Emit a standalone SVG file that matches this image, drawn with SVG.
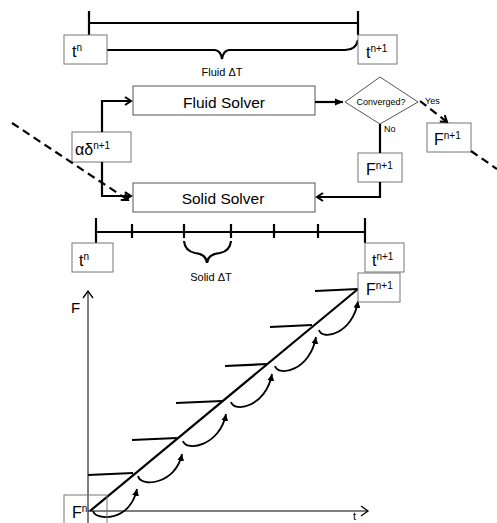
<svg xmlns="http://www.w3.org/2000/svg" width="497" height="523" viewBox="0 0 497 523">
<style>
  text { font-family: "Liberation Sans", Arial, sans-serif; fill: #000; }
  .box { fill: #fff; stroke: #777; stroke-width: 1; }
  .thick { fill: none; stroke: #000; stroke-width: 2.2; }
  .thin { fill: none; stroke: #000; stroke-width: 1; }
  .dash { fill: none; stroke: #000; stroke-width: 2.2; stroke-dasharray: 8 5; }
  .lbl { font-size: 16px; }
  .sup { font-size: 10px; }
</style>
<defs>
  <marker id="chev" markerWidth="10" markerHeight="10" refX="8" refY="5" orient="auto" markerUnits="userSpaceOnUse">
    <path d="M2,1 L8,5 L2,9" fill="none" stroke="#000" stroke-width="2"/>
  </marker>
  <marker id="chevThin" markerWidth="12" markerHeight="12" refX="10" refY="6" orient="auto" markerUnits="userSpaceOnUse">
    <path d="M3,1 L10,6 L3,11" fill="none" stroke="#000" stroke-width="1.3"/>
  </marker>
  <marker id="tri" markerWidth="10" markerHeight="10" refX="8" refY="5" orient="auto" markerUnits="userSpaceOnUse">
    <path d="M0,1.5 L8,5 L0,8.5 Z" fill="#000"/>
  </marker>
  <marker id="triS" markerWidth="10" markerHeight="10" refX="7" refY="4" orient="auto" markerUnits="userSpaceOnUse">
    <path d="M0,0.5 L7,4 L0,7.5 Z" fill="#000"/>
  </marker>
</defs>

<!-- Top fluid timeline -->
<g id="fluid-timeline">
  <line class="thick" x1="89" y1="23" x2="358" y2="23"/>
  <line class="thick" x1="89" y1="11" x2="89" y2="35"/>
  <line class="thick" x1="358" y1="11" x2="358" y2="35"/>
  <path class="thick" d="M89,41 Q92,50 104,50 L215,50 Q221,51 222,59 Q223,51 229,50 L345,50 Q356,50 358,40"/>
  <text x="222" y="76" font-size="11" text-anchor="middle">Fluid ΔT</text>
</g>
<g id="tn-top">
  <rect class="box" x="64" y="35" width="43" height="29"/>
  <text x="72" y="57" class="lbl">t<tspan class="sup" dy="-6">n</tspan></text>
</g>
<g id="tn1-top">
  <rect class="box" x="358" y="35" width="39" height="29"/>
  <text x="366" y="58" class="lbl">t<tspan class="sup" dy="-6">n+1</tspan></text>
</g>

<!-- Solver loop -->
<g id="fluid-solver">
  <rect class="box" x="133" y="86" width="182" height="29" style="stroke:#555"/>
  <text x="224" y="108" font-size="15.5" text-anchor="middle">Fluid Solver</text>
</g>
<g id="solid-solver">
  <rect class="box" x="133" y="183" width="182" height="29" style="stroke:#555"/>
  <text x="223" y="204" font-size="15.5" text-anchor="middle">Solid Solver</text>
</g>
<g id="alpha-delta">
  <rect class="box" x="72" y="132" width="59" height="30"/>
  <text x="75" y="155" class="lbl">αδ<tspan class="sup" dy="-6">n+1</tspan></text>
</g>
<g id="converged">
  <polygon points="345,102 380,77 418,102 380,124" fill="#fff" stroke="#555" stroke-width="1"/>
  <text x="381" y="105" font-size="9" text-anchor="middle">Converged?</text>
</g>
<g id="f-no">
  <rect class="box" x="358" y="153" width="44" height="29"/>
  <text x="366" y="175" class="lbl">F<tspan class="sup" dy="-6">n+1</tspan></text>
</g>
<g id="f-yes">
  <rect class="box" x="427" y="123" width="44" height="29"/>
  <text x="434" y="145" class="lbl">F<tspan class="sup" dy="-6">n+1</tspan></text>
</g>

<g id="connectors">
  <polyline class="thick" points="102,132 102,101 131,101" marker-end="url(#chev)"/>
  <polyline class="thick" points="102,162 102,196 131,196" marker-end="url(#chev)"/>
  <line class="thick" x1="315" y1="102" x2="343" y2="102" marker-end="url(#tri)"/>
  <line class="thick" x1="380" y1="124" x2="380" y2="153"/>
  <polyline class="thick" points="380,182 380,197 317,197" marker-end="url(#chev)"/>
  <text x="425" y="104" font-size="9">Yes</text>
  <text x="384" y="132" font-size="9">No</text>
  <line class="dash" x1="420" y1="101" x2="447" y2="122" marker-end="url(#chev)"/>
  <line class="dash" x1="471" y1="151" x2="497" y2="169"/>
  <line class="dash" x1="12" y1="123" x2="128" y2="200" marker-end="url(#chev)"/>
</g>

<!-- Solid timeline -->
<g id="solid-timeline">
  <line class="thick" x1="96" y1="232" x2="365" y2="232"/>
  <line class="thick" x1="96" y1="218" x2="96" y2="243"/>
  <line class="thick" x1="365" y1="218" x2="365" y2="243"/>
  <line class="thick" x1="132" y1="224" x2="132" y2="238"/>
  <line class="thick" x1="184" y1="224" x2="184" y2="238"/>
  <line class="thick" x1="231" y1="224" x2="231" y2="238"/>
  <line class="thick" x1="274" y1="224" x2="274" y2="238"/>
  <line class="thick" x1="318" y1="224" x2="318" y2="238"/>
  <path class="thick" d="M184,241 Q185,251 195,253 Q206,254 207,263 Q208,254 220,253 Q230,251 231,241"/>
  <text x="211" y="281" font-size="11" text-anchor="middle">Solid ΔT</text>
</g>
<g id="tn-bottom">
  <rect class="box" x="72" y="243" width="41" height="29"/>
  <text x="79" y="266" class="lbl">t<tspan class="sup" dy="-6">n</tspan></text>
</g>
<g id="tn1-bottom">
  <rect class="box" x="365" y="243" width="39" height="29"/>
  <text x="372" y="266" class="lbl">t<tspan class="sup" dy="-6">n+1</tspan></text>
</g>

<!-- Graph -->
<g id="graph">
  <line class="thin" x1="88" y1="523" x2="88" y2="291" marker-end="url(#chevThin)"/>
  <line class="thin" x1="88" y1="511" x2="368" y2="511" marker-end="url(#chevThin)"/>
  <text x="71" y="313" font-size="15">F</text>
  <text x="353" y="520" font-size="11">t</text>
  <line class="thick" x1="90" y1="511" x2="358" y2="289"/>
  <line class="thick" x1="88" y1="475" x2="133" y2="473"/>
  <line class="thick" x1="132" y1="440" x2="177" y2="438"/>
  <line class="thick" x1="176" y1="403" x2="222" y2="401"/>
  <line class="thick" x1="225" y1="366" x2="268" y2="364"/>
  <line class="thick" x1="270" y1="327" x2="312" y2="325"/>
  <line class="thick" x1="315" y1="291" x2="358" y2="289"/>
  <g class="thick" style="stroke-width:1.8">
    <path d="M93,511 C96,521 130,522 137,489" marker-end="url(#triS)"/>
    <path d="M138,476 C141,488 176,484 182,454" marker-end="url(#triS)"/>
    <path d="M183,441 C186,452 220,446 226,414" marker-end="url(#triS)"/>
    <path d="M231,402 C234,413 266,407 272,374" marker-end="url(#triS)"/>
    <path d="M275,366 C278,377 310,371 316,337" marker-end="url(#triS)"/>
    <path d="M319,330 C322,341 353,334 358,301" marker-end="url(#triS)"/>
  </g>
</g>
<g id="fn1-graph">
  <rect class="box" x="358" y="273" width="42" height="29"/>
  <text x="366" y="295" class="lbl">F<tspan class="sup" dy="-6">n+1</tspan></text>
</g>
<g id="fn-graph">
  <rect class="box" x="64" y="495" width="43" height="35" style="fill:none"/>
  <text x="72" y="518" class="lbl">F<tspan class="sup" dy="-6">n</tspan></text>
</g>
</svg>
